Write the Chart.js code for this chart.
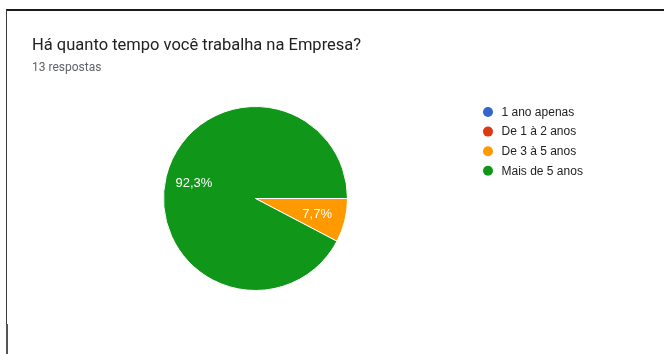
<!DOCTYPE html>
<html lang="pt-BR">
<head>
<meta charset="utf-8">
<script src="https://cdn.jsdelivr.net/npm/chart.js@4/dist/chart.umd.min.js"></script>
<style>
  html, body { margin: 0; padding: 0; background: #fff; }
  #wrap { position: relative; width: 664px; height: 354px; overflow: hidden; }
  #frameTop { position: absolute; left: 6px; top: 9px; width: 658px; height: 2px; background: #1a1a1a; }
  #frameLeft { position: absolute; left: 6px; top: 9px; width: 1px; height: 345px; background: #3a3a3a; }
  #frameLeftLow { position: absolute; left: 6px; top: 324px; width: 2px; height: 30px; background: #555; }
  #title { position: absolute; left: 32px; top: 35px; font: 16.5px Roboto, "Noto Sans", sans-serif; color: #202124; white-space: nowrap; line-height: 20px; }
  #subtitle { position: absolute; left: 32px; top: 59px; font: 12px Roboto, "Noto Sans", sans-serif; color: #5f6368; white-space: nowrap; line-height: 16px; }
  canvas { position: absolute; left: 0; top: 0; }
</style>
</head>
<body>
<div id="wrap">
  <canvas id="chart" width="664" height="354"></canvas>
  <div id="frameTop"></div>
  <div id="frameLeft"></div>
  <div id="frameLeftLow"></div>
  <div id="title">Há quanto tempo você trabalha na Empresa?</div>
  <div id="subtitle">13 respostas</div>
</div>
<script>
// Answer options and number of responses for each
const categories = ['1 ano apenas', 'De 1 à 2 anos', 'De 3 à 5 anos', 'Mais de 5 anos'];
const responses = [0, 0, 1, 12];
const sliceColors = ['#3366cc', '#dc3912', '#ff9900', '#109618'];

const total = responses.reduce((a, b) => a + b, 0);
const pctText = v => (v / total * 100).toFixed(1).replace('.', ',') + '%';

// Percentage text inside each visible slice
const sliceLabels = {
  id: 'sliceLabels',
  afterDatasetsDraw(chart) {
    const ctx = chart.ctx;
    const meta = chart.getDatasetMeta(0);
    ctx.save();
    ctx.font = '13px "Liberation Sans", Arial, sans-serif';
    ctx.fillStyle = '#ffffff';
    ctx.textAlign = 'center';
    ctx.textBaseline = 'middle';
    meta.data.forEach((arc, i) => {
      const v = responses[i];
      if (!v) return;
      const p = arc.getProps(['x', 'y', 'startAngle', 'endAngle', 'outerRadius']);
      let mid = (p.startAngle + p.endAngle) / 2;
      if (v / total > 0.5) {
        // dominant slice: label sits opposite the centre of the remaining slices
        mid = (p.endAngle + p.startAngle + 2 * Math.PI) / 2 + Math.PI;
      }
      const r = p.outerRadius * 0.69;
      ctx.fillText(pctText(v), p.x + Math.cos(mid) * r, p.y + Math.sin(mid) * r + 0.5);
    });
    ctx.restore();
  }
};

// Legend column to the right of the pie
const sideLegend = {
  id: 'sideLegend',
  afterDraw(chart) {
    const ctx = chart.ctx;
    const x0 = 488, y0 = 112, step = 19.6;
    ctx.save();
    ctx.font = '12px "Liberation Sans", Arial, sans-serif';
    ctx.textBaseline = 'middle';
    chart.data.labels.forEach((lab, i) => {
      const y = y0 + i * step;
      ctx.beginPath();
      ctx.arc(x0, y, 5, 0, Math.PI * 2);
      ctx.fillStyle = chart.data.datasets[0].backgroundColor[i];
      ctx.fill();
      ctx.fillStyle = '#222222';
      ctx.fillText(lab, x0 + 13.5, y + 0.5);
    });
    ctx.restore();
  }
};

new Chart(document.getElementById('chart'), {
  type: 'pie',
  data: {
    labels: categories,
    datasets: [{
      data: responses,
      backgroundColor: sliceColors,
      borderColor: '#ffffff',
      borderWidth: 1,
      hoverOffset: 0
    }]
  },
  options: {
    responsive: false,
    animation: false,
    rotation: 90,
    layout: { padding: { left: 163, top: 106, right: 316, bottom: 63 } },
    plugins: {
      legend: { display: false },
      tooltip: { enabled: false }
    },
    events: []
  },
  plugins: [sliceLabels, sideLegend]
});
</script>
</body>
</html>
